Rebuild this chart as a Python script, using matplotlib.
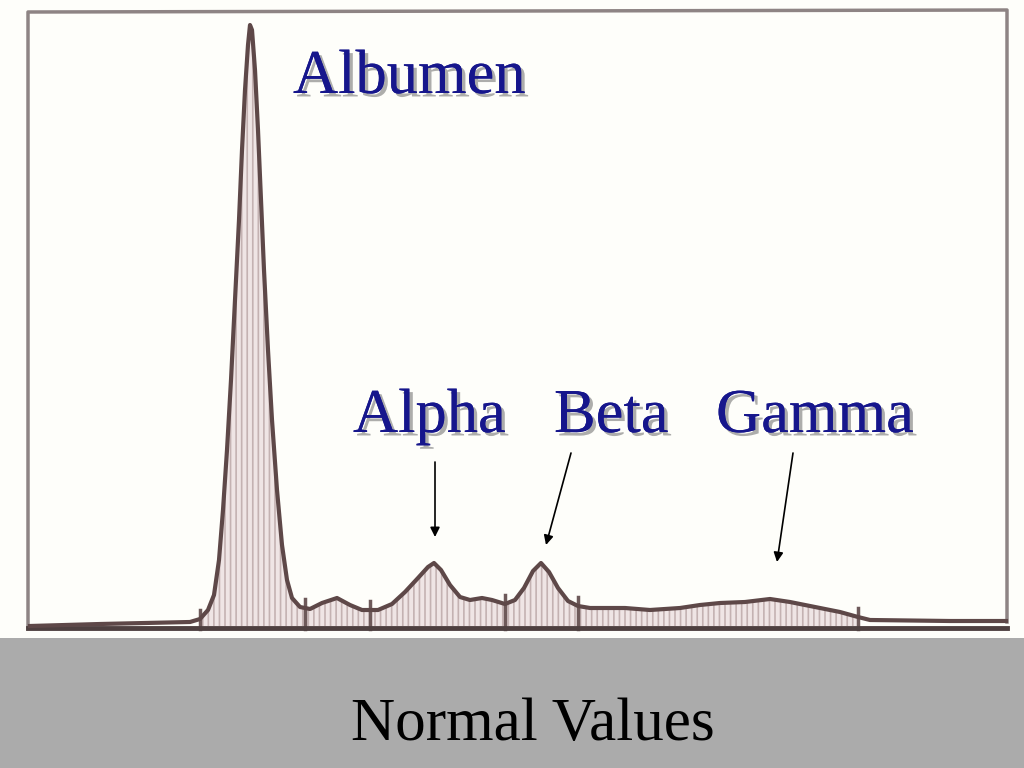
import matplotlib.pyplot as plt
import matplotlib.patches as patches
import matplotlib.patheffects as pe
import numpy as np

# densitometer trace (mobility in px, density above baseline)
mobility = [30, 100, 190, 200, 208, 214, 219, 223, 227, 231, 235, 239, 242, 245, 248, 250,
            252, 255, 258, 261, 264, 268, 272, 277, 282, 287, 292, 300, 310, 322, 337, 350,
            362, 378, 392, 405, 418, 428, 434, 441, 450, 460, 470, 482, 492, 505, 515, 524,
            533, 541, 549, 558, 568, 578, 590, 625, 650, 680, 700, 720, 745, 770, 790, 815,
            840, 858, 870, 950, 1006]
density = [0, 2, 4, 7, 16, 31, 66, 116, 176, 246, 326, 406, 476, 536, 581, 601,
           596, 556, 496, 426, 356, 276, 206, 136, 81, 46, 28, 19, 17, 23, 28, 21,
           16, 16, 22, 34, 48, 59, 63, 56, 41, 29, 26, 28, 26, 22, 26, 38,
           55, 63, 54, 38, 25, 20, 18, 18, 16, 18, 21, 23, 24, 27, 24, 19,
           14, 9, 6, 5, 5]

# fraction boundaries marked on the trace
dividers = [200, 305, 370, 505, 578, 858]

fractions = ["Albumen", "Alpha", "Beta", "Gamma"]
label_pos = [(293, 533), (353, 194), (554, 194), (716, 194)]
arrows = [None, ((435, 164), (435, 89)), ((571, 173), (546, 81)), ((793, 173), (777, 64))]

plt.rcParams['hatch.linewidth'] = 1.2
fig = plt.figure(figsize=(10.24, 7.68), dpi=100)
fig.patch.set_facecolor('#FEFEFA')

# grey caption band
fig.patches.append(patches.Rectangle((0, 0), 1, 130 / 768, transform=fig.transFigure,
                                     facecolor='#ABABAB', edgecolor='none', zorder=0))
fig.text(533 / 1024, 28 / 768, "Normal Values", ha='center', va='baseline',
         fontsize=44, family='Liberation Serif', color='black')

ax = fig.add_axes([0, 130 / 768, 1, 638 / 768])
ax.set_xlim(0, 1024)
ax.set_ylim(-12, 626)
ax.axis('off')
ax.set_facecolor('none')

x = np.array(mobility)
y = np.array(density)
ax.fill_between(x, 0, y, where=(x >= 198) & (x <= 860), facecolor='#EFE5E5',
                edgecolor='#C4B2B2', hatch='|||', linewidth=0, zorder=1)
ax.plot(x, y, color='#5E4848', linewidth=3, solid_joinstyle='round', zorder=3)

for d in dividers:
    top = np.interp(d, x, y)
    ax.plot([d, d], [-3, top + 9], color='#6E5A5A', linewidth=2.5, zorder=2)

# frame
ax.plot([28, 28, 1007, 1007], [-2, 614, 616, 4], color='#8E8484', linewidth=2.5, zorder=2)
ax.plot([28, 1007], [-2, -2], color='#4E4040', linewidth=3.5, zorder=2)

shadow = [pe.withSimplePatchShadow(offset=(2.5, -2.5), shadow_rgbFace='#777777', alpha=0.6),
          pe.Normal()]
for name, (lx, ly) in zip(fractions, label_pos):
    ax.text(lx, ly, name, ha='left', va='baseline', fontsize=45, family='Liberation Serif',
            color='#16168C', path_effects=shadow, zorder=5)

for arr in arrows:
    if arr is None:
        continue
    (x0, y0), (x1, y1) = arr
    ax.annotate('', xy=(x1, y1), xytext=(x0, y0),
                arrowprops=dict(arrowstyle='-|>', color='black', lw=1.2,
                                mutation_scale=14, shrinkA=0, shrinkB=0), zorder=5)

plt.savefig("out.png", dpi=100, facecolor=fig.get_facecolor())
